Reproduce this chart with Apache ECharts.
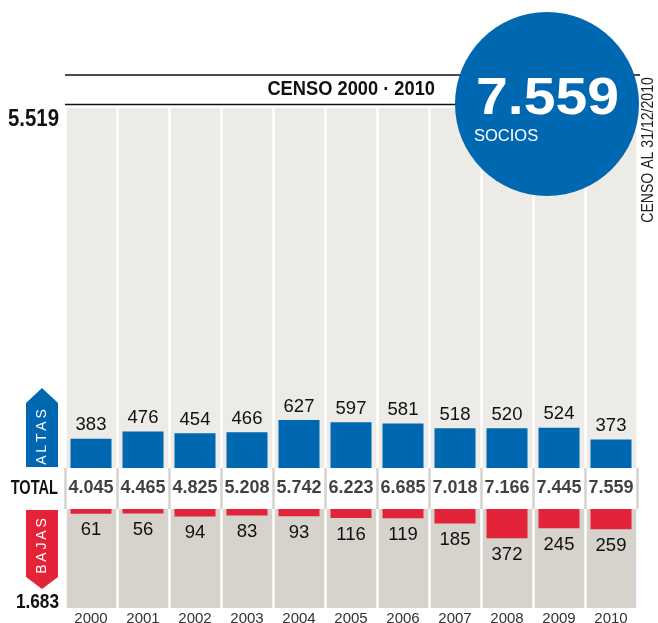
<!DOCTYPE html>
<html>
<head>
<meta charset="utf-8">
<style>
  html, body { margin: 0; padding: 0; background: #fff; }
  #chart { width: 658px; height: 623px; }
</style>
<script src="https://cdn.jsdelivr.net/npm/echarts@6/dist/echarts.min.js"></script>
</head>
<body>
<div id="chart"></div>
<script>
const years = ['2000', '2001', '2002', '2003', '2004', '2005', '2006', '2007', '2008', '2009', '2010'];
const altas = [383, 476, 454, 466, 627, 597, 581, 518, 520, 524, 373];
const bajas = [61, 56, 94, 83, 93, 116, 119, 185, 372, 245, 259];
const totales = [4045, 4465, 4825, 5208, 5742, 6223, 6685, 7018, 7166, 7445, 7559];

const BLUE = '#0067b1';
const RED = '#e32337';
const LIGHT = '#edebe7';
const DARK = '#d6d2cc';
const SANS = '"Liberation Sans", Arial, sans-serif';

// 4045 -> 4.045
function fmt(n) {
  return String(n).replace(/\B(?=(\d{3})+(?!\d))/g, '.');
}
const sum = arr => arr.reduce((a, b) => a + b, 0);

function colAxis(gridIndex, areaColor, lineColor, showLabel) {
  return {
    type: 'category',
    gridIndex: gridIndex,
    data: years,
    boundaryGap: true,
    axisLine: { show: false },
    axisTick: { show: false },
    axisLabel: showLabel
      ? { show: true, interval: 0, margin: 3, color: '#333', fontSize: 15, fontFamily: SANS }
      : { show: false, interval: 0 },
    splitArea: { show: !!areaColor, interval: 0, areaStyle: { color: [areaColor || '#fff'] } },
    splitLine: { show: true, interval: 0, lineStyle: { color: lineColor, width: 2.5 } }
  };
}

// texto fijo (con escala horizontal para imitar la fuente condensada)
function txt(text, x, y, font, color, align, opts) {
  return Object.assign({
    type: 'text', z: 102, x: x, y: y,
    style: { text: text, fill: color, font: font,
      align: align, verticalAlign: 'middle', textAlign: align, textVerticalAlign: 'middle' }
  }, opts || {});
}

const chart = echarts.init(document.getElementById('chart'));
chart.setOption({
  animation: false,
  grid: [
    { left: 65, right: 21, top: 108, height: 360, containLabel: false, outerBoundsMode: 'none' },
    { left: 65, right: 21, top: 468, height: 41, containLabel: false, outerBoundsMode: 'none' },
    { left: 65, right: 21, top: 509, height: 99, containLabel: false, outerBoundsMode: 'none' }
  ],
  xAxis: [
    colAxis(0, LIGHT, '#fff', false),
    colAxis(1, null, DARK, false),
    colAxis(2, DARK, '#fff', true)
  ],
  yAxis: [
    { type: 'value', gridIndex: 0, min: 0, max: 4700, show: false },
    { type: 'category', gridIndex: 1, data: ['TOTAL'], show: false },
    { type: 'value', gridIndex: 2, min: 0, max: 1260, inverse: true, show: false }
  ],
  series: [
    {
      name: 'Altas',
      type: 'bar',
      xAxisIndex: 0,
      yAxisIndex: 0,
      barWidth: 41,
      data: altas,
      itemStyle: { color: BLUE },
      label: { show: true, position: 'top', distance: 4, color: '#111', fontSize: 18.5, fontFamily: SANS }
    },
    {
      name: 'Total',
      type: 'scatter',
      xAxisIndex: 1,
      yAxisIndex: 1,
      symbolSize: 1,
      itemStyle: { color: 'transparent' },
      data: totales.map((v, i) => [years[i], 'TOTAL', v]),
      label: {
        show: true,
        position: 'inside',
        formatter: p => fmt(p.value[2]),
        color: '#111',
        fontSize: 18,
        fontWeight: 'bold',
        fontFamily: SANS
      }
    },
    {
      name: 'Bajas',
      type: 'bar',
      xAxisIndex: 2,
      yAxisIndex: 2,
      barWidth: 41,
      data: bajas,
      itemStyle: { color: RED },
      label: { show: true, position: 'bottom', distance: 7, color: '#111', fontSize: 18.5, fontFamily: SANS }
    }
  ],
  graphic: [
    // lineas del titulo
    { type: 'line', z: 100, shape: { x1: 65, y1: 75, x2: 640, y2: 75 }, style: { stroke: '#111', lineWidth: 1.3 } },
    { type: 'line', z: 100, shape: { x1: 65, y1: 104.5, x2: 600, y2: 104.5 }, style: { stroke: '#111', lineWidth: 1.3 } },
    txt('CENSO 2000 · 2010', 435, 89, 'bold 21px ' + SANS, '#111', 'right', { scaleX: 0.87 }),
    // circulo
    { type: 'circle', z: 101, shape: { cx: 547, cy: 104, r: 92 }, style: { fill: BLUE } },
    txt(fmt(totales[totales.length - 1]), 476, 100, 'bold 51px ' + SANS, '#fff', 'left', { scaleX: 1.12 }),
    txt('SOCIOS', 474, 136, '16.5px ' + SANS, '#fff', 'left'),
    txt('CENSO AL 31/12/2010', 649, 150, '16px ' + SANS, '#222', 'center', { rotation: Math.PI / 2, scaleX: 0.88 }),
    // sumas a la izquierda
    txt(fmt(sum(altas)), 59, 119, 'bold 24px ' + SANS, '#111', 'right', { scaleX: 0.85 }),
    txt(fmt(sum(bajas)), 59, 602, 'bold 21px ' + SANS, '#111', 'right', { scaleX: 0.82 }),
    txt('TOTAL', 58, 488, 'bold 20px ' + SANS, '#111', 'right', { scaleX: 0.73 }),
    // flechas ALTAS / BAJAS
    {
      type: 'polygon', z: 100,
      shape: { points: [[26, 403], [42, 388], [58, 403], [58, 467], [26, 467]] },
      style: { fill: BLUE }
    },
    txt('A\u2009L\u2009T\u2009A\u2009S', 42, 437, '14px ' + SANS, '#fff', 'center', { rotation: Math.PI / 2 }),
    {
      type: 'polygon', z: 100,
      shape: { points: [[26, 510], [58, 510], [58, 577], [42, 589], [26, 577]] },
      style: { fill: RED }
    },
    txt('B\u2009A\u2009J\u2009A\u2009S', 42, 546, '14px ' + SANS, '#fff', 'center', { rotation: Math.PI / 2 })
  ]
});
</script>
</body>
</html>
